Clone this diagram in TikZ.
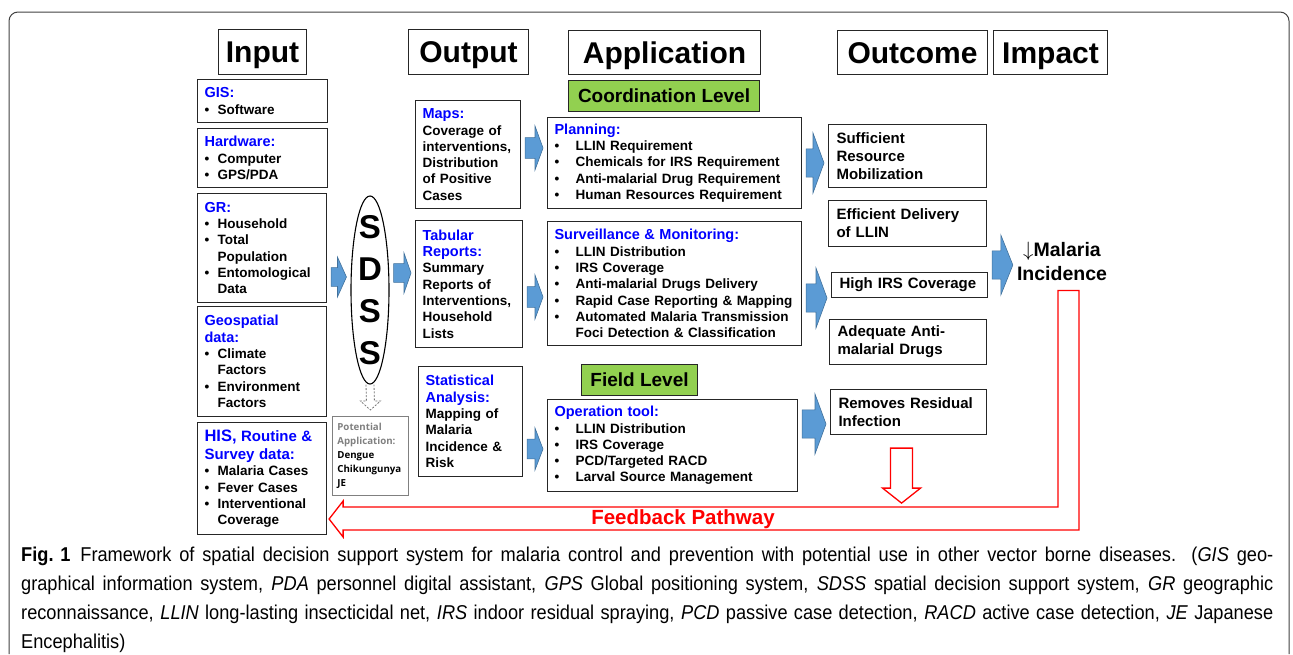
\documentclass[tikz,border=0pt]{standalone}
\usepackage{fontspec}
\setmainfont{Liberation Sans}
\newfontfamily\potfont{Open Sans}
\newfontfamily\capfont[FakeStretch=0.91]{Liberation Sans}
\usetikzlibrary{calc,shapes.geometric}

\definecolor{arrowblue}{RGB}{91,155,213}
\definecolor{arrowedge}{RGB}{65,113,156}
\definecolor{levelgreen}{RGB}{146,208,80}
\definecolor{labelblue}{RGB}{0,0,255}
\definecolor{fbred}{RGB}{255,0,0}

% blue heading inside a box, bullet item, continued bullet line
\newcommand{\hd}[1]{{\color{labelblue}\fontsize{14.5}{16.3}\selectfont #1}}
\newcommand{\bul}[2][13pt]{\makebox[#1][l]{\textbullet}#2}
\newcommand{\bulc}[2][13pt]{\hspace*{#1}#2}

% fat blue arrow: from node, to node, y, head half width, head length
\newcommand{\blockarrow}[5]{%
  \coordinate (ba-y) at (0,#3);
  \coordinate (ba-s) at ($(#1.east |- ba-y)+(4,0)$);
  \coordinate (ba-e) at ($(#2.west |- ba-y)+(-4,0)$);
  \draw[blockarr] ($(ba-s)+(0,-0.47*#4)$) -- ($(ba-e)+(-#5,-0.47*#4)$)
    -- ($(ba-e)+(-#5,-#4)$) -- (ba-e) -- ($(ba-e)+(-#5,#4)$)
    -- ($(ba-e)+(-#5,0.47*#4)$) -- ($(ba-s)+(0,0.47*#4)$) -- cycle;}

\tikzset{
  hdr/.style={draw=black!85, line width=1.1pt, anchor=north west, inner sep=0pt,
    text height=21.5pt, text depth=0pt, font=\fontsize{30}{30}\selectfont\bfseries},
  lvl/.style={hdr, fill=levelgreen, text height=13.5pt, font=\fontsize{19}{19}\selectfont\bfseries},
  box/.style={draw=black!85, line width=1.1pt, anchor=north west, inner xsep=7pt,
    inner ysep=2pt, align=left, font=\fontsize{13.5}{16.3}\selectfont\bfseries},
  outbox/.style={box, inner xsep=8pt, font=\fontsize{15}{18}\selectfont\bfseries},
  blockarr/.style={fill=arrowblue, draw=arrowedge, line width=0.6pt},
  potarr/.style={draw=black!55, line width=0.8pt, dash pattern=on 2pt off 1.5pt},
  fbline/.style={draw=fbred, line width=1.3pt, line join=miter}
}

\begin{document}
\begin{tikzpicture}[x=1pt,y=-1pt]
\useasboundingbox (0,0) rectangle (1293,654);
\draw[black!75, line width=1pt, rounded corners=9pt] (9,654) -- (9,12) -- (1289,12) -- (1289,654);

% column headings
\node (input)    at (218,29) [hdr, minimum width=88pt,  minimum height=45pt] {Input};
\node (output)   at (408,29) [hdr, minimum width=120pt, minimum height=45pt] {Output};
\node (appl)     at (568,30) [hdr, minimum width=192pt, minimum height=44pt] {Application};
\node (outcome)  at (837,30) [hdr, minimum width=150pt, minimum height=44pt] {Outcome};
\node (impacthd) at (993,30) [hdr, minimum width=114pt, minimum height=44pt] {Impact};

% input
\node (gis) at (197,79)  [box, text width=116pt, minimum height=43pt] {\hd{GIS:}\\\bul{Software}};
\node (hw)  at (197,128) [box, text width=116pt, minimum height=59pt] {\hd{Hardware:}\\\bul{Computer}\\\bul{GPS/PDA}};
\node (gr)  at (197,193) [box, text width=115pt, minimum height=109pt]
  {\hd{GR:}\\\bul{Household}\\\bul{Total}\\\bulc{Population}\\\bul{Entomological}\\\bulc{Data}};
\node (geo) at (197,306) [box, text width=115pt, minimum height=110pt]
  {\hd{Geospatial}\\\hd{data:}\\\bul{Climate}\\\bulc{Factors}\\\bul{Environment}\\\bulc{Factors}};
\node (his) at (197,422) [box, text width=115pt, minimum height=112pt]
  {{\color{labelblue}\fontsize{16.5}{17}\selectfont HIS, \fontsize{15}{17}\selectfont Routine \&}\\[2pt]
   {\color{labelblue}\fontsize{15}{17}\selectfont Survey data:}\\\bul{Malaria Cases}\\\bul{Fever Cases}\\
   \bul{Interventional}\\\bulc{Coverage}};

% sdss
\node (sdss) at (370,290) [ellipse, draw, line width=1.1pt, minimum width=38pt, minimum height=188pt, inner sep=0pt] {};
\node (sdsslbl) at (sdss.center) [align=center, font=\fontsize{33}{42}\selectfont\bfseries] {S\\D\\S\\S};
\node (pot) at (332,416) [box, draw=black!50, line width=0.8pt, inner xsep=5pt, text width=66pt, minimum height=79pt,
  font=\potfont\bfseries\fontsize{9.7}{14}\selectfont]
  {\textcolor{black!50}{Potential}\\\textcolor{black!50}{Application:}\\Dengue\\Chikungunya\\JE};

% output
\node (maps) at (415,100) [box, text width=91pt, minimum height=108pt]
  {\hd{Maps:}\\Coverage of\\interventions,\\Distribution\\of Positive\\Cases};
\node (tab)  at (415,220) [box, text width=93pt, minimum height=127pt]
  {\hd{Tabular}\\\hd{Reports:}\\Summary\\Reports of\\Interventions,\\Household\\Lists};
\node (stat) at (418,366) [box, text width=90pt, minimum height=110pt]
  {\hd{Statistical}\\\hd{Analysis:}\\Mapping of\\Malaria\\Incidence \&\\Risk};

% application
\node (coord) at (568,80) [lvl, minimum width=191pt, minimum height=31pt] {Coordination Level};
\node (plan)  at (547,117) [box, text width=240pt, minimum height=91pt]
  {\hd{Planning:}\\\bul[21pt]{LLIN Requirement}\\\bul[21pt]{Chemicals for IRS Requirement}\\
   \bul[21pt]{Anti-malarial Drug Requirement}\\\bul[21pt]{Human Resources Requirement}};
\node (surv)  at (547,221) [box, text width=240pt, minimum height=124pt]
  {\hd{Surveillance \& Monitoring:}\\\bul[21pt]{LLIN Distribution}\\\bul[21pt]{IRS Coverage}\\
   \bul[21pt]{Anti-malarial Drugs Delivery}\\\bul[21pt]{Rapid Case Reporting \& Mapping}\\
   \bul[21pt]{Automated Malaria Transmission}\\\bulc[21pt]{Foci Detection \& Classification}};
\node (field) at (581,364) [lvl, minimum width=116pt, minimum height=31pt] {Field Level};
\node (oper)  at (547,399) [box, text width=236pt, minimum height=92pt]
  {\hd{Operation tool:}\\\bul[21pt]{LLIN Distribution}\\\bul[21pt]{IRS Coverage}\\
   \bul[21pt]{PCD/Targeted RACD}\\\bul[21pt]{Larval Source Management}};

% outcome
\node (suff) at (828,124) [outbox, text width=142pt, minimum height=63pt] {Sufficient\\Resource\\Mobilization};
\node (effi) at (828,200) [outbox, text width=142pt, minimum height=46pt] {Efficient Delivery\\of LLIN};
\node (high) at (831,272) [outbox, text width=140pt, minimum height=25pt] {High IRS Coverage};
\node (adeq) at (829,319) [outbox, text width=141pt, minimum height=45pt] {Adequate Anti-\\malarial Drugs};
\node (remv) at (830,389) [outbox, text width=140pt, minimum height=45pt] {Removes Residual\\Infection};

% impact
\node (impact) at (1062,261) [inner sep=0pt, align=center, font=\fontsize{19.5}{24}\selectfont\bfseries]
  {$\downarrow$Malaria\\Incidence};

% blue arrows
\blockarrow{gr}{sdss}{277}{20}{9}
\blockarrow{sdss}{tab}{273}{20}{7}
\blockarrow{maps}{plan}{148}{22}{8}
\blockarrow{tab}{surv}{297}{22}{8}
\blockarrow{stat}{oper}{449}{21}{8}
\blockarrow{plan}{suff}{163}{30}{11}
\blockarrow{surv}{high}{298}{30}{11}
\blockarrow{oper}{remv}{424}{30}{11}
\blockarrow{high}{impact}{265}{30}{12}

% dashed arrow to other diseases
\coordinate (pa-s) at (sdss.south);
\coordinate (pa-e) at ($(pot.north)+(0,-6)$);
\draw[potarr] ($(pa-s)+(-4,0)$) -- ($(pa-e)+(-4,-9)$) -- ($(pa-e)+(-10,-9)$) -- (pa-e)
  -- ($(pa-e)+(10,-9)$) -- ($(pa-e)+(4,-9)$) -- ($(pa-s)+(4,0)$);

% feedback
\node (fb) at (683,519) [text=fbred, font=\fontsize{20.5}{20}\selectfont\bfseries] {Feedback Pathway};
\coordinate (rd-s) at ($(remv.south)+(-7,13)$);
\draw[fbline] ($(rd-s)+(-11,0)$) -- ++(22,0) -- ++(0,40) -- ++(8,0) -- ($(rd-s)+(0,55)$)
  -- ($(rd-s)+(-19,40)$) -- ++(8,0) -- cycle;
\coordinate (fbtip) at ($(his.east |- fb.center)+(2,0)$);
\coordinate (fbtop) at ($(impact.south)+(-4,10)$);
\draw[fbline] (fbtop) -- ++(21,0) |- ($(fbtip)+(14,11)$) -- ++(0,7) -- (fbtip)
  -- ++(14,-18) -- ++(0,6) -| (fbtop) -- cycle;

% caption
\node (cap) at (21,547) [anchor=north west, inner sep=0pt, text width=1252pt, align=justify,
  font=\capfont\fontsize{20}{29}\selectfont]
  {\mbox{\bfseries Fig. 1}\hspace{0.5em}Framework of spatial decision support system for malaria control and prevention with potential use in other vector borne diseases. (\textit{GIS} geo-\linebreak
  graphical information system, \textit{PDA} personnel digital assistant, \textit{GPS} Global positioning system, \textit{SDSS} spatial decision support system, \textit{GR} geographic\linebreak
  reconnaissance, \textit{LLIN} long-lasting insecticidal net, \textit{IRS} indoor residual spraying, \textit{PCD} passive case detection, \textit{RACD} active case detection, \textit{JE} Japanese\linebreak
  Encephalitis)};
\end{tikzpicture}
\end{document}
